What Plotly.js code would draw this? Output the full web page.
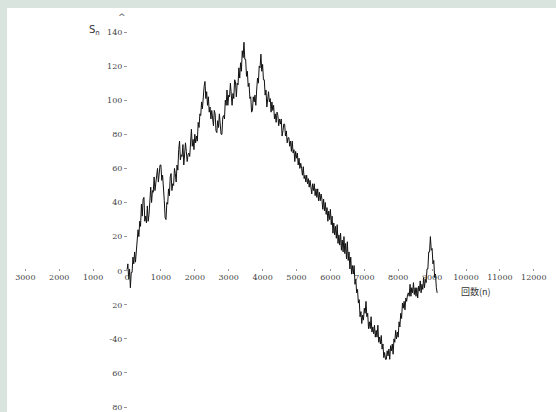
<!DOCTYPE html>
<html>
<head>
<meta charset="utf-8">
<script src="https://cdn.plot.ly/plotly-3.0.1.min.js"></script>
<style>
  html, body { margin: 0; padding: 0; background: #dae4df; }
  #chart { width: 556px; height: 412px; }
</style>
</head>
<body>
<div id="chart"></div>
<script>
// Random walk S_n: number of trials n and running sum S_n
const trialN = [
  0, 25, 50, 75, 100, 125, 150, 175, 200, 225, 250, 275, 300, 325, 350, 375, 400, 425, 450, 475,
  500, 525, 550, 575, 600, 625, 650, 675, 700, 725, 750, 775, 800, 825, 850, 875, 900, 925, 950, 975,
  1000, 1025, 1050, 1075, 1100, 1125, 1150, 1175, 1200, 1225, 1250, 1275, 1300, 1325, 1350, 1375, 1400, 1425, 1450, 1475,
  1500, 1525, 1550, 1575, 1600, 1625, 1650, 1675, 1700, 1725, 1750, 1775, 1800, 1825, 1850, 1875, 1900, 1925, 1950, 1975,
  2000, 2025, 2050, 2075, 2100, 2125, 2150, 2175, 2200, 2225, 2250, 2275, 2300, 2325, 2350, 2375, 2400, 2425, 2450, 2475,
  2500, 2525, 2550, 2575, 2600, 2625, 2650, 2675, 2700, 2725, 2750, 2775, 2800, 2825, 2850, 2875, 2900, 2925, 2950, 2975,
  3000, 3025, 3050, 3075, 3100, 3125, 3150, 3175, 3200, 3225, 3250, 3275, 3300, 3325, 3350, 3375, 3400, 3425, 3450, 3475,
  3500, 3525, 3550, 3575, 3600, 3625, 3650, 3675, 3700, 3725, 3750, 3775, 3800, 3825, 3850, 3875, 3900, 3925, 3950, 3975,
  4000, 4025, 4050, 4075, 4100, 4125, 4150, 4175, 4200, 4225, 4250, 4275, 4300, 4325, 4350, 4375, 4400, 4425, 4450, 4475,
  4500, 4525, 4550, 4575, 4600, 4625, 4650, 4675, 4700, 4725, 4750, 4775, 4800, 4825, 4850, 4875, 4900, 4925, 4950, 4975,
  5000, 5025, 5050, 5075, 5100, 5125, 5150, 5175, 5200, 5225, 5250, 5275, 5300, 5325, 5350, 5375, 5400, 5425, 5450, 5475,
  5500, 5525, 5550, 5575, 5600, 5625, 5650, 5675, 5700, 5725, 5750, 5775, 5800, 5825, 5850, 5875, 5900, 5925, 5950, 5975,
  6000, 6025, 6050, 6075, 6100, 6125, 6150, 6175, 6200, 6225, 6250, 6275, 6300, 6325, 6350, 6375, 6400, 6425, 6450, 6475,
  6500, 6525, 6550, 6575, 6600, 6625, 6650, 6675, 6700, 6725, 6750, 6775, 6800, 6825, 6850, 6875, 6900, 6925, 6950, 6975,
  7000, 7025, 7050, 7075, 7100, 7125, 7150, 7175, 7200, 7225, 7250, 7275, 7300, 7325, 7350, 7375, 7400, 7425, 7450, 7475,
  7500, 7525, 7550, 7575, 7600, 7625, 7650, 7675, 7700, 7725, 7750, 7775, 7800, 7825, 7850, 7875, 7900, 7925, 7950, 7975,
  8000, 8025, 8050, 8075, 8100, 8125, 8150, 8175, 8200, 8225, 8250, 8275, 8300, 8325, 8350, 8375, 8400, 8425, 8450, 8475,
  8500, 8525, 8550, 8575, 8600, 8625, 8650, 8675, 8700, 8725, 8750, 8775, 8800, 8825, 8850, 8875, 8900, 8925, 8950, 8975,
  9000, 9025, 9050, 9075, 9100, 9125, 9150
];
const sumS = [
  0, 4, -5, 1, -10, -1, -1, 8, 4, 11, 5, 14, 17, 24, 20, 29, 26, 39, 32, 42,
  43, 29, 32, 28, 38, 29, 33, 43, 49, 40, 47, 46, 55, 47, 53, 58, 60, 52, 58, 62,
  62, 53, 56, 43, 41, 31, 30, 40, 39, 48, 44, 55, 57, 47, 51, 50, 60, 57, 52, 62,
  59, 71, 76, 65, 68, 67, 74, 62, 69, 75, 70, 64, 68, 69, 67, 78, 83, 73, 77, 71,
  80, 75, 79, 76, 87, 84, 92, 91, 99, 95, 103, 108, 111, 101, 105, 97, 102, 93, 96, 89,
  94, 89, 85, 94, 92, 82, 81, 88, 84, 92, 83, 80, 80, 90, 91, 89, 100, 97, 106, 97,
  103, 102, 110, 99, 97, 104, 101, 112, 111, 102, 110, 109, 119, 113, 122, 117, 129, 125, 134, 124,
  124, 114, 117, 108, 110, 101, 102, 93, 94, 102, 99, 103, 97, 106, 113, 110, 120, 119, 127, 117,
  121, 112, 112, 103, 106, 96, 101, 105, 99, 101, 93, 99, 94, 97, 89, 92, 87, 93, 91, 85,
  89, 86, 89, 79, 82, 86, 86, 79, 82, 75, 78, 78, 73, 76, 70, 76, 69, 71, 64, 70,
  66, 69, 62, 66, 60, 63, 60, 56, 61, 54, 56, 52, 56, 51, 54, 49, 53, 50, 45, 51,
  47, 51, 44, 48, 43, 48, 41, 46, 41, 45, 42, 36, 42, 35, 40, 33, 37, 29, 35, 30,
  36, 27, 32, 22, 28, 21, 26, 19, 27, 16, 21, 15, 22, 12, 18, 11, 20, 10, 16, 7,
  17, 6, 11, 1, 8, -2, 3, -2, 3, -8, -5, -13, -11, -19, -17, -27, -24, -31, -26, -29,
  -22, -25, -18, -27, -25, -34, -30, -34, -27, -36, -33, -37, -32, -39, -35, -39, -32, -42, -39, -43,
  -38, -46, -43, -51, -48, -52, -52, -47, -50, -46, -52, -44, -47, -43, -49, -40, -42, -35, -40, -36,
  -39, -30, -33, -25, -28, -19, -22, -18, -23, -16, -18, -14, -13, -15, -8, -15, -10, -13, -7, -14,
  -10, -15, -10, -16, -9, -12, -6, -13, -8, -11, -4, -10, -5, -7, 1, 1, 11, 11, 20, 12,
  13, 4, 6, -4, -2, -10, -13
];

// Axis ticks and their printed labels
const xTickVals = [-3000, -2000, -1000, 0, 1000, 2000, 3000, 4000, 5000, 6000, 7000, 8000, 9000, 10000, 11000, 12000];
const xTickText = ['3000', '2000', '1000', '0', '1000', '2000', '3000', '4000', '5000', '6000', '7000', '8000', '9000', '10000', '11000', '12000'];
const yTickVals = [-80, -60, -40, -20, 0, 20, 40, 60, 80, 100, 120, 140];
const yTickText = ['80', '60', '-40', '20', '0', '20', '40', '60', '80', '100', '120', '140'];

const xRange = [-3540, 12655];
const yRange = [-82.9, 154.1];
const plotHeightPx = 404;

// Place each axis where the other one crosses zero (x axis nudged up a hair)
const xAxisPos = (0 - yRange[0]) / (yRange[1] - yRange[0]) + 3 / plotHeightPx;
const yAxisPos = (0 - xRange[0]) / (xRange[1] - xRange[0]);

const tickFont = { family: 'DejaVu Serif, Liberation Serif, serif', size: 8, color: '#444' };

const trace = {
  x: trialN,
  y: sumS,
  type: 'scatter',
  mode: 'lines',
  line: { color: '#111', width: 1 },
  hoverinfo: 'skip'
};

const axisCommon = {
  showgrid: false,
  zeroline: false,
  showline: false,
  ticks: 'outside',
  ticklen: 2,
  tickwidth: 1,
  tickcolor: '#999',
  tickfont: tickFont,
  tickmode: 'array',
  fixedrange: true
};

const layout = {
  width: 556,
  height: 412,
  margin: { l: 7, r: 0, t: 8, b: 0, pad: 0 },
  paper_bgcolor: '#dae4df',
  plot_bgcolor: '#ffffff',
  showlegend: false,
  xaxis: Object.assign({}, axisCommon, {
    range: xRange,
    anchor: 'free',
    position: xAxisPos,
    tickvals: xTickVals,
    ticktext: xTickText
  }),
  yaxis: Object.assign({}, axisCommon, {
    range: yRange,
    anchor: 'free',
    position: yAxisPos,
    ticklen: 3,
    tickvals: yTickVals,
    ticktext: yTickText
  }),
  annotations: [
    {
      x: -973, y: 141, xref: 'x', yref: 'y',
      text: 'S<sub>n</sub>', showarrow: false,
      font: { family: 'DejaVu Sans, sans-serif', size: 10, color: '#333' },
      xanchor: 'center', yanchor: 'middle'
    },
    {
      x: -147, y: 149, xref: 'x', yref: 'y',
      text: '^', showarrow: false,
      font: { family: 'DejaVu Sans, sans-serif', size: 9, color: '#555' },
      xanchor: 'center', yanchor: 'middle'
    },
    {
      x: 10295, y: -12.2, xref: 'x', yref: 'y',
      text: '回数(n)', showarrow: false,
      font: { family: 'Noto Sans CJK JP, sans-serif', size: 9, color: '#333' },
      xanchor: 'center', yanchor: 'middle'
    }
  ]
};

Plotly.newPlot('chart', [trace], layout, { displayModeBar: false, staticPlot: true });
</script>
</body>
</html>
